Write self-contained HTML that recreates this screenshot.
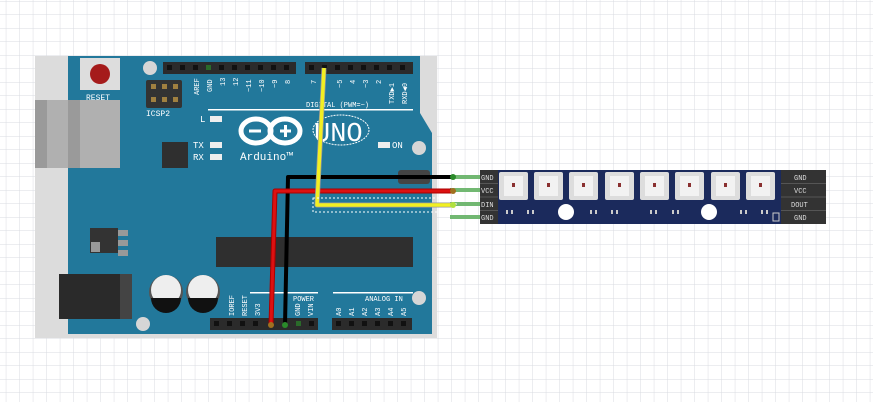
<!DOCTYPE html>
<html><head><style>
html,body{margin:0;padding:0;background:#fff}
svg{display:block}
text{font-family:"Liberation Mono",monospace}
</style></head><body>
<svg width="873" height="402" viewBox="0 0 873 402" xmlns="http://www.w3.org/2000/svg">
<defs>
<pattern id="g" width="13.5" height="13.5" patternUnits="userSpaceOnUse" x="5.8" y="1">
<path d="M13.5 0H0V13.5" fill="none" stroke="#d9dbe1" stroke-width="1"/>
</pattern>
</defs>
<rect width="873" height="402" fill="#fff"/>
<rect width="873" height="402" fill="url(#g)"/>
<!-- gray base -->
<rect x="35" y="56" width="402" height="282" fill="#dcdcdc"/>
<rect x="35" y="100" width="85" height="68" fill="#b0b0b0"/>
<rect x="35" y="100" width="12" height="68" fill="#9a9a9a"/>
<!-- board -->
<polygon points="68,56 420,56 420,113 432,133 432,334 68,334" fill="#22789b"/>
<rect x="68" y="100" width="52" height="68" fill="#b0b0b0"/>
<rect x="68" y="100" width="12" height="68" fill="#9a9a9a"/>
<!-- reset -->
<rect x="80" y="58" width="40" height="32" fill="#ddd"/>
<circle cx="100" cy="74" r="10" fill="#a51b1b"/>
<text x="86" y="100" font-size="8" fill="#fff">RESET</text>
<!-- ICSP -->
<rect x="146" y="80" width="36" height="28" rx="2" fill="#333"/>
<g fill="#a08040"><rect x="151" y="84" width="5" height="5"/><rect x="162" y="84" width="5" height="5"/><rect x="173" y="84" width="5" height="5"/><rect x="151" y="97" width="5" height="5"/><rect x="162" y="97" width="5" height="5"/><rect x="173" y="97" width="5" height="5"/></g>
<text x="146" y="116" font-size="8" fill="#fff">ICSP2</text>
<!-- mounting holes -->
<g fill="#d6d6d6"><circle cx="150" cy="68" r="7"/><circle cx="419" cy="148" r="7"/><circle cx="419" cy="298" r="7"/><circle cx="143" cy="324" r="7"/></g>
<!-- headers top -->
<rect x="163" y="62" width="133" height="12" fill="#2b2b2b"/>
<rect x="305" y="62" width="108" height="12" fill="#2b2b2b"/>
<g fill="#111">
<rect x="167" y="65" width="5" height="5"/><rect x="180" y="65" width="5" height="5"/><rect x="193" y="65" width="5" height="5"/><rect x="206" y="65" width="5" height="5" fill="#2a6a2a"/><rect x="219" y="65" width="5" height="5"/><rect x="232" y="65" width="5" height="5"/><rect x="245" y="65" width="5" height="5"/><rect x="258" y="65" width="5" height="5"/><rect x="271" y="65" width="5" height="5"/><rect x="284" y="65" width="5" height="5"/>
<rect x="309" y="65" width="5" height="5"/><rect x="322" y="65" width="5" height="5"/><rect x="335" y="65" width="5" height="5"/><rect x="348" y="65" width="5" height="5"/><rect x="361" y="65" width="5" height="5"/><rect x="374" y="65" width="5" height="5"/><rect x="387" y="65" width="5" height="5"/><rect x="400" y="65" width="5" height="5"/>
</g>
<g font-size="7" fill="#fff">
<text transform="translate(199,95) rotate(-90)">AREF</text>
<text transform="translate(212,92) rotate(-90)">GND</text>
<text transform="translate(225,86) rotate(-90)">13</text>
<text transform="translate(238,86) rotate(-90)">12</text>
<text transform="translate(251,92) rotate(-90)">~11</text>
<text transform="translate(264,92) rotate(-90)">~10</text>
<text transform="translate(277,88) rotate(-90)">~9</text>
<text transform="translate(290,84) rotate(-90)">8</text>
<text transform="translate(316,84) rotate(-90)">7</text>
<text transform="translate(342,88) rotate(-90)">~5</text>
<text transform="translate(355,84) rotate(-90)">4</text>
<text transform="translate(368,88) rotate(-90)">~3</text>
<text transform="translate(381,84) rotate(-90)">2</text>
<text transform="translate(394,104) rotate(-90)">TXD▶1</text>
<text transform="translate(407,104) rotate(-90)">RXD◀0</text>
<text x="306" y="107">DIGITAL (PWM=~)</text>
</g>
<rect x="208" y="109" width="205" height="1.5" fill="#fff"/>
<!-- LEDs L TX RX ON -->
<g fill="#eee"><rect x="210" y="116" width="12" height="6"/><rect x="210" y="142" width="12" height="6"/><rect x="210" y="154" width="12" height="6"/><rect x="378" y="142" width="12" height="6"/></g>
<g font-size="9" fill="#fff"><text x="200" y="122">L</text><text x="193" y="148">TX</text><text x="193" y="160">RX</text><text x="392" y="148">ON</text></g>
<rect x="162" y="142" width="26" height="26" fill="#2f2f2f"/>
<!-- logo -->
<g fill="none" stroke="#fff" stroke-width="5"><ellipse cx="256" cy="131" rx="15" ry="12"/><ellipse cx="285" cy="131" rx="15" ry="12"/></g>
<rect x="249" y="129.5" width="12" height="3" fill="#fff"/>
<rect x="280" y="129.5" width="11" height="3" fill="#fff"/><rect x="284" y="125" width="3" height="12" fill="#fff"/>
<ellipse cx="341" cy="130" rx="28" ry="15" fill="none" stroke="#fff" stroke-width="1" stroke-dasharray="2 1"/>
<text x="314" y="141" font-size="27" fill="#fff" font-family="Liberation Sans,sans-serif">UNO</text>
<text x="240" y="160" font-size="11" fill="#fff">Arduino™</text>
<!-- chip -->
<rect x="216" y="237" width="197" height="30" fill="#2f2f2f"/>
<!-- regulator -->
<rect x="90" y="228" width="28" height="25" fill="#333"/><rect x="91" y="242" width="9" height="10" fill="#999"/><rect x="118" y="230" width="10" height="6" fill="#999"/><rect x="118" y="240" width="10" height="6" fill="#999"/><rect x="118" y="250" width="10" height="6" fill="#999"/>
<!-- power jack -->
<rect x="59" y="274" width="73" height="45" fill="#2a2a2a"/><rect x="120" y="274" width="12" height="45" fill="#444"/>
<!-- caps -->
<g><circle cx="166" cy="292" r="17" fill="#555"/><circle cx="166" cy="290" r="15" fill="#eee"/><path d="M151 298 A15 15 0 0 0 181 298 Z" fill="#111"/></g>
<g><circle cx="203" cy="292" r="17" fill="#555"/><circle cx="203" cy="290" r="15" fill="#eee"/><path d="M188 298 A15 15 0 0 0 218 298 Z" fill="#111"/></g>
<!-- bottom headers -->
<rect x="210" y="318" width="108" height="12" fill="#2b2b2b"/>
<rect x="332" y="318" width="80" height="12" fill="#2b2b2b"/>
<g fill="#111"><rect x="214" y="321" width="5" height="5"/><rect x="227" y="321" width="5" height="5"/><rect x="240" y="321" width="5" height="5"/><rect x="253" y="321" width="5" height="5"/><rect x="296" y="321" width="5" height="5" fill="#2a6a2a"/><rect x="309" y="321" width="5" height="5"/>
<rect x="336" y="321" width="5" height="5"/><rect x="349" y="321" width="5" height="5"/><rect x="362" y="321" width="5" height="5"/><rect x="375" y="321" width="5" height="5"/><rect x="388" y="321" width="5" height="5"/><rect x="401" y="321" width="5" height="5"/></g>
<rect x="250" y="292" width="68" height="1.5" fill="#fff"/><rect x="333" y="292" width="80" height="1.5" fill="#fff"/>
<g font-size="7" fill="#fff">
<text x="293" y="301">POWER</text><text x="365" y="301">ANALOG IN</text>
<text transform="translate(234,316) rotate(-90)">IOREF</text>
<text transform="translate(247,316) rotate(-90)">RESET</text>
<text transform="translate(260,316) rotate(-90)">3V3</text>
<text transform="translate(300,316) rotate(-90)">GND</text>
<text transform="translate(313,316) rotate(-90)">VIN</text>
<text transform="translate(341,316) rotate(-90)">A0</text><text transform="translate(354,316) rotate(-90)">A1</text><text transform="translate(367,316) rotate(-90)">A2</text><text transform="translate(380,316) rotate(-90)">A3</text><text transform="translate(393,316) rotate(-90)">A4</text><text transform="translate(406,316) rotate(-90)">A5</text>
</g>
<rect x="398" y="170" width="32" height="14" rx="3" fill="#444"/>
<!-- green pins -->
<g stroke="#72b872" stroke-width="4"><line x1="450" y1="177" x2="482" y2="177"/><line x1="450" y1="190" x2="482" y2="190"/><line x1="450" y1="204" x2="482" y2="204"/><line x1="450" y1="217" x2="482" y2="217"/></g>
<!-- wires -->
<g fill="none" stroke-linejoin="round">
<polyline points="285,325 288,177 452,177" stroke="#000" stroke-width="4"/>
<polyline points="271,325 275,191 452,191" stroke="#a00" stroke-width="5"/>
<polyline points="271,325 275,191 452,191" stroke="#d11" stroke-width="3"/>
<polyline points="324,68 317,205 452,205" stroke="#999" stroke-width="5"/>
<polyline points="324,68 317,205 452,205" stroke="#f2f022" stroke-width="3.5"/>
<rect x="313" y="198" width="143" height="14" stroke="#fff" stroke-width="1" stroke-dasharray="2 2"/>
</g>
<circle cx="285" cy="325" r="3" fill="#2a8a2a"/><circle cx="271" cy="325" r="3" fill="#a07020"/>
<circle cx="453" cy="177" r="3" fill="#2a8a2a"/><circle cx="453" cy="191" r="3" fill="#a07020"/><circle cx="453" cy="205" r="3" fill="#b0e040"/>
<!-- strip -->
<rect x="480" y="170" width="18" height="54" fill="#333"/>
<rect x="498" y="170" width="283" height="54" fill="#1b2a5c"/>
<rect x="781" y="170" width="45" height="54" fill="#333"/>
<g stroke="#555"><line x1="480" y1="183.5" x2="498" y2="183.5"/><line x1="480" y1="197" x2="498" y2="197"/><line x1="480" y1="210.5" x2="498" y2="210.5"/><line x1="781" y1="183.5" x2="826" y2="183.5"/><line x1="781" y1="197" x2="826" y2="197"/><line x1="781" y1="210.5" x2="826" y2="210.5"/></g>
<g font-size="7" fill="#ddd" font-family="Liberation Sans,sans-serif">
<text x="481" y="180">GND</text><text x="481" y="193">VCC</text><text x="481" y="207">DIN</text><text x="481" y="220">GND</text>
<text x="794" y="180">GND</text><text x="794" y="193">VCC</text><text x="791" y="207">DOUT</text><text x="794" y="220">GND</text>
</g>
<g>
<g fill="#ddd"><rect x="499" y="172" width="29" height="28" rx="2"/><rect x="534" y="172" width="29" height="28" rx="2"/><rect x="569" y="172" width="29" height="28" rx="2"/><rect x="605" y="172" width="29" height="28" rx="2"/><rect x="640" y="172" width="29" height="28" rx="2"/><rect x="675" y="172" width="29" height="28" rx="2"/><rect x="711" y="172" width="29" height="28" rx="2"/><rect x="746" y="172" width="29" height="28" rx="2"/></g>
<g fill="#f2f2f2"><rect x="504" y="176" width="19" height="20"/><rect x="539" y="176" width="19" height="20"/><rect x="574" y="176" width="19" height="20"/><rect x="610" y="176" width="19" height="20"/><rect x="645" y="176" width="19" height="20"/><rect x="680" y="176" width="19" height="20"/><rect x="716" y="176" width="19" height="20"/><rect x="751" y="176" width="19" height="20"/></g>
<g fill="#8a3030"><rect x="512" y="183" width="3" height="4"/><rect x="547" y="183" width="3" height="4"/><rect x="582" y="183" width="3" height="4"/><rect x="618" y="183" width="3" height="4"/><rect x="653" y="183" width="3" height="4"/><rect x="688" y="183" width="3" height="4"/><rect x="724" y="183" width="3" height="4"/><rect x="759" y="183" width="3" height="4"/></g>
</g>
<g fill="#fff"><circle cx="566" cy="212" r="8"/><circle cx="709" cy="212" r="8"/></g>
<g fill="#ccc">
<rect x="506" y="210" width="2" height="4"/><rect x="511" y="210" width="2" height="4"/><rect x="527" y="210" width="2" height="4"/><rect x="532" y="210" width="2" height="4"/>
<rect x="590" y="210" width="2" height="4"/><rect x="595" y="210" width="2" height="4"/><rect x="611" y="210" width="2" height="4"/><rect x="616" y="210" width="2" height="4"/>
<rect x="650" y="210" width="2" height="4"/><rect x="655" y="210" width="2" height="4"/><rect x="672" y="210" width="2" height="4"/><rect x="677" y="210" width="2" height="4"/>
<rect x="740" y="210" width="2" height="4"/><rect x="745" y="210" width="2" height="4"/><rect x="761" y="210" width="2" height="4"/><rect x="766" y="210" width="2" height="4"/>
<rect x="773" y="213" width="6" height="8" fill="none" stroke="#ccc" stroke-width="1"/>
</g>
</svg>
</body></html>
